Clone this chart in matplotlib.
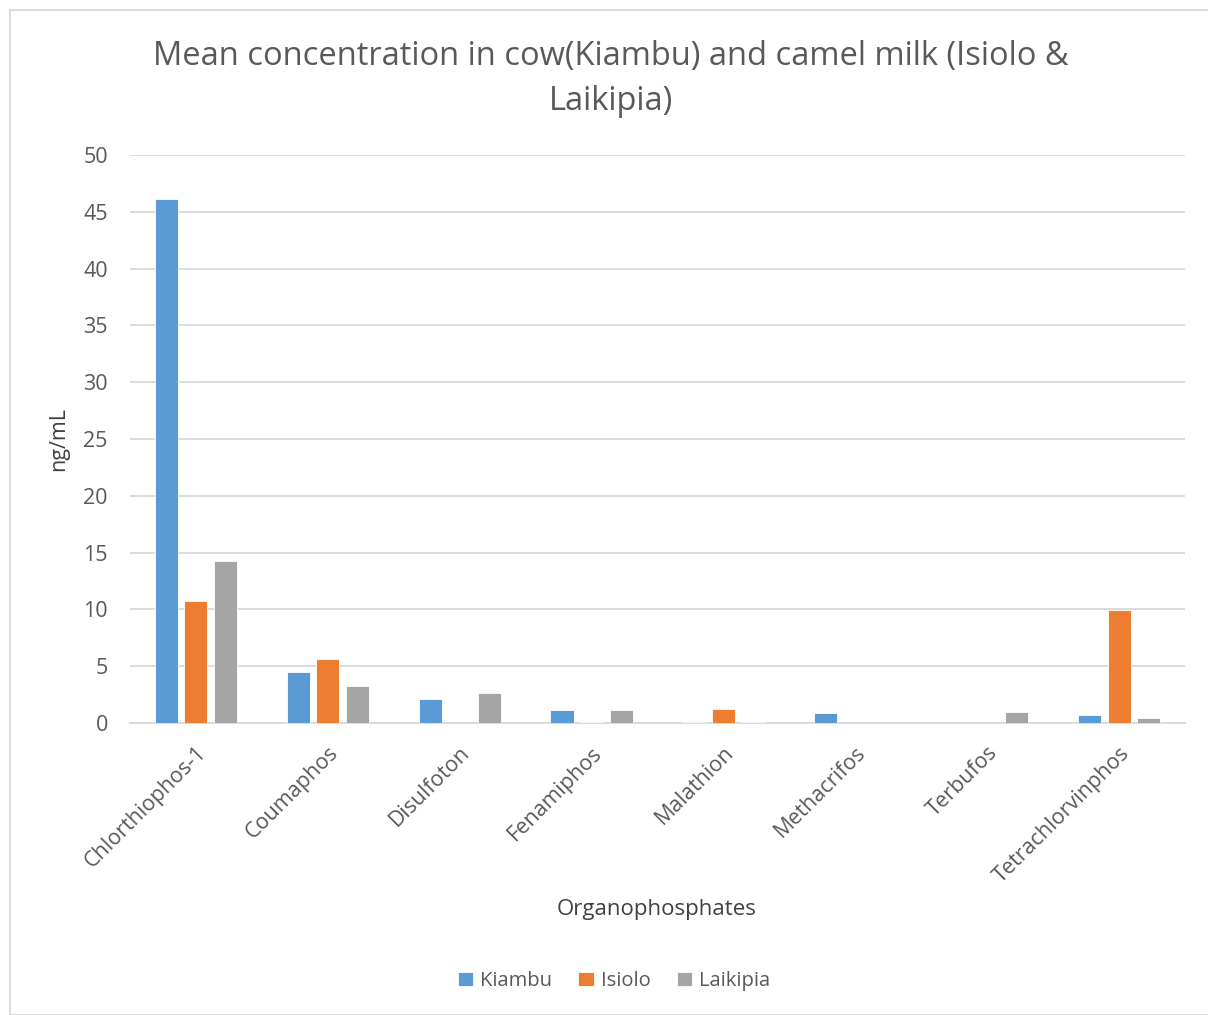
import numpy as np
import matplotlib.pyplot as plt
from matplotlib.patches import Rectangle

plt.rcParams['font.family'] = ['Open Sans', 'DejaVu Sans']

compounds = ['Chlorthiophos-1', 'Coumaphos', 'Disulfoton', 'Fenamiphos',
             'Malathion', 'Methacrifos', 'Terbufos', 'Tetrachlorvinphos']
kiambu = [46.1, 4.5, 2.1, 1.17, 0.1, 0.85, 0.0, 0.73]
isiolo = [10.75, 5.65, 0.0, 0.1, 1.23, 0.0, 0.0, 9.95]
laikipia = [14.27, 3.27, 2.64, 1.17, 0.08, 0.0, 0.97, 0.44]

series = [('Kiambu', kiambu, '#5b9bd5'),
          ('Isiolo', isiolo, '#ed7d31'),
          ('Laikipia', laikipia, '#a5a5a5')]

text_col = '#595959'

fig = plt.figure(figsize=(12.08, 10.15), dpi=100)
ax = fig.add_axes([130/1208, 1 - 723/1015, 1055/1208, 568/1015])

x = np.arange(len(compounds))
w = 0.175
step = 0.224
for i, (name, vals, col) in enumerate(series):
    ax.bar(x + (i - 1) * step, vals, width=w, color=col, label=name,
           edgecolor='white', linewidth=0.6, zorder=3)

ax.set_xlim(-0.5, len(compounds) - 0.5)
ax.set_ylim(0, 50)
ax.set_yticks(range(0, 51, 5))
ax.yaxis.grid(True, color='#d9d9d9', linewidth=1.3, zorder=0)
ax.set_axisbelow(True)
for s in ['top', 'right', 'left']:
    ax.spines[s].set_visible(False)
ax.spines['bottom'].set_color('#d9d9d9')
ax.spines['bottom'].set_linewidth(1.3)
ax.tick_params(axis='both', length=0, colors=text_col, labelsize=15.5)
ax.tick_params(axis='y', pad=16)
ax.set_xticks(x)
ax.set_xticklabels(compounds, rotation=45, ha='right', rotation_mode='anchor')
ax.tick_params(axis='x', pad=14)

ax.set_ylabel('ng/mL', fontsize=15.5, color='#404040', labelpad=10)
fig.text(657/1208, 1 - 910/1015, 'Organophosphates', fontsize=16,
         color='#404040', ha='center', va='center')
fig.text(611/1208, 1 - 79/1015,
         'Mean concentration in cow(Kiambu) and camel milk (Isiolo &\nLaikipia)',
         fontsize=23.5, color=text_col, ha='center', va='center',
         linespacing=1.5)

fig.legend(loc='center', bbox_to_anchor=(614/1208, 1 - 981/1015), ncol=3,
           frameon=False, fontsize=14.5, handlelength=0.75, handleheight=0.75,
           columnspacing=1.3, handletextpad=0.35, labelcolor=text_col)

fig.patches.append(Rectangle((10/1208, 0), 1, 1 - 10/1015, transform=fig.transFigure,
                             fill=False, edgecolor='#d9d9d9', linewidth=1.3))

fig.savefig('out.png', dpi=100)
